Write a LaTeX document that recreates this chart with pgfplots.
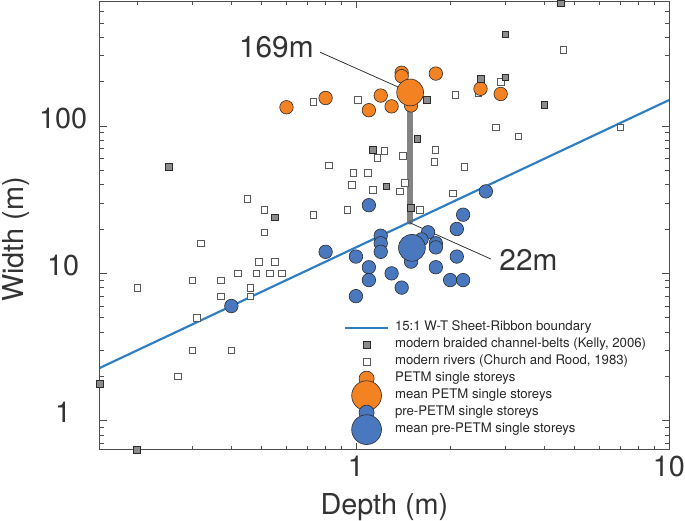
\documentclass[border=0pt]{standalone}
\usepackage{pgfplots}
\pgfplotsset{compat=1.18}
\usepackage{fontspec}
\setmainfont{TeX Gyre Heros}
\definecolor{txt}{HTML}{333333}
\definecolor{legtxt}{HTML}{262626}
\definecolor{axc}{HTML}{4D4D4D}
\definecolor{lineblue}{HTML}{2E7EC4}
\definecolor{petm}{HTML}{F28222}
\definecolor{pre}{HTML}{4A78BE}
\definecolor{kelly}{HTML}{8C8C8C}
\definecolor{edgec}{HTML}{2B2B2B}
\definecolor{bar}{HTML}{646464}

\pgfplotsset{
  mylegline/.style={legend image code/.code={\draw[##1] (0pt,0pt) -- (43pt,0pt);}},
  mylegmark/.style={legend image code/.code={\path[draw=none] (0pt,0pt) -- (43pt,0pt);
     \path[##1, draw=none, overlay] plot coordinates {(21.5pt,0pt)};}},
  kellysq/.style={only marks, mark=square*, mark size=3.4pt, mark options={fill=kelly, draw=edgec, line width=0.6pt}},
  churchsq/.style={only marks, mark=square*, mark size=3.3pt, mark options={fill=white, draw=black!65, line width=0.6pt}},
  petmc/.style={only marks, mark=*, mark size=#1, mark options={fill=petm, draw=edgec, line width=0.6pt}},
  prec/.style={only marks, mark=*, mark size=#1, mark options={fill=pre, draw=edgec, line width=0.6pt}},
}

\begin{document}
\begin{tikzpicture}
\begin{axis}[
  xmode=log, ymode=log,
  scale only axis, width=573pt, height=451pt,
  xmin=0.152, xmax=10, ymin=0.637, ymax=700,
  xtick={1,10}, xticklabels={1,10},
  ytick={1,10,100}, yticklabels={1,10,100},
  minor xtick={0.2,0.3,0.4,0.5,0.6,0.7,0.8,0.9,2,3,4,5,6,7,8,9},
  minor ytick={0.7,0.8,0.9,2,3,4,5,6,7,8,9,20,30,40,50,60,70,80,90,200,300,400,500,600},
  axis line style={axc, line width=0.9pt},
  tick style={axc, line width=0.8pt},
  major tick length=7pt, minor tick length=4pt,
  tick align=inside,
  ticklabel style={font=\fontsize{29}{34}\selectfont, text=txt},
  xticklabel style={anchor=north, inner sep=0pt, yshift=-6pt},
  yticklabel style={anchor=center, inner sep=0pt, xshift=-37pt, yshift=8pt},
  xlabel={Depth (m)}, ylabel={Width (m)},
  label style={font=\fontsize{29}{34}\selectfont, text=txt},
  xlabel style={at={(axis description cs:0.5,0)}, anchor=north, inner sep=0pt, yshift=-44pt},
  ylabel style={at={(axis description cs:-0.1169,0.469)}, anchor=south, inner xsep=0pt, inner ysep=3pt},
  legend cell align=left,
  legend style={draw=none, fill=none, inner sep=0pt, outer sep=0pt,
    at={(axis description cs:0.4293,0.2863)}, anchor=north west,
    font=\fontsize{13.3}{15}\selectfont, text=legtxt,
    row sep=4.1pt, column sep=6pt,
    nodes={inner sep=0pt, text height=9.8pt, text depth=3.2pt}},
]
% legend entries
\addlegendimage{mylegline, lineblue, line width=2.2pt}
\addlegendentry{15:1 W-T Sheet-Ribbon boundary}
\addlegendimage{mylegmark, kellysq}
\addlegendentry{modern braided channel-belts (Kelly, 2006)}
\addlegendimage{mylegmark, churchsq}
\addlegendentry{modern rivers (Church and Rood, 1983)}
\addlegendimage{mylegmark, petmc=7.6pt}
\addlegendentry{PETM single storeys}
\addlegendimage{mylegmark, petmc=15pt}
\addlegendentry{mean PETM single storeys}
\addlegendimage{mylegmark, prec=7.6pt}
\addlegendentry{pre-PETM single storeys}
\addlegendimage{mylegmark, prec=15pt}
\addlegendentry{mean pre-PETM single storeys}

% 15:1 boundary
\addplot[forget plot, lineblue, line width=2.2pt] coordinates {(0.152,2.28) (10,150)};

% modern rivers (Church and Rood, 1983)
\addplot[forget plot, churchsq] coordinates {
(0.73,146) (1.015,151) (0.82,54) (0.98,48) (1.09,48) (0.97,40) (1.13,37) (1.23,68) (1.17,61)
(0.45,32) (0.51,27) (0.73,25) (0.94,27) (0.51,19) (0.32,16) (4.6,330) (2.9,200) (2.46,167)
(2.08,163) (2.8,98) (3.3,85) (7.0,98) (1.41,63) (1.79,69) (1.78,57) (2.22,53) (1.43,41)
(1.38,36) (2.04,35) (1.6,27) (0.49,12) (0.55,12) (0.3,9) (0.37,9) (0.42,10) (0.48,10)
(0.53,10) (0.58,10) (0.2,8) (0.46,8) (0.37,7) (0.46,7) (0.31,5) (0.3,3) (0.4,3) (0.27,2)};

% PETM single storeys
\addplot[forget plot, petmc=6.8pt] coordinates {
(0.6,134) (0.8,155) (1.1,128) (1.2,161) (1.3,136) (1.4,230) (1.4,218) (1.8,227)
(1.5,138) (2.5,179) (2.9,165)};
\addplot[forget plot, petmc=13.5pt] coordinates {(1.49,169)};

% pre-PETM single storeys
\addplot[forget plot, prec=6.8pt] coordinates {
(1.1,29) (2.6,36) (2.2,25) (2.1,20) (1.7,19) (1.62,17) (1.2,18) (1.2,16) (1.2,14)
(0.8,14) (1.0,13) (1.8,16) (1.8,15) (1.5,12) (2.1,13) (1.1,11) (1.3,10) (1.8,11)
(1.1,9) (2.0,9) (2.2,9) (1.4,8) (1.0,7) (0.4,6)};
\addplot[forget plot, prec=13.5pt] coordinates {(1.51,14.9)};

% range bar
\addplot[forget plot, bar, opacity=0.8, line width=6.5pt, line cap=round] coordinates {(1.49,22.5) (1.49,172)};

% modern braided channel-belts (Kelly, 2006)
\addplot[forget plot, kellysq] coordinates {
(0.152,1.77) (0.2,0.637) (0.252,53) (0.55,24) (1.13,69) (1.25,39) (4.5,680) (3.0,420)
(2.5,210) (3.0,214) (1.68,151) (4.0,139) (1.57,82) (1.5,28)};

% annotations
\draw[txt, line width=0.8pt] (axis cs:0.769,316.5) -- (axis cs:1.40,179.5);
\draw[txt, line width=0.8pt] (axis cs:1.49,22) -- (axis cs:2.70,12.5);
\node[txt, font=\fontsize{30}{36}\selectfont, inner sep=0pt] at (axis cs:0.557,343) {169m};
\node[txt, font=\fontsize{30}{36}\selectfont, inner sep=0pt, anchor=west] at (axis cs:2.87,12.3) {22m};
\end{axis}
\end{tikzpicture}
\end{document}
